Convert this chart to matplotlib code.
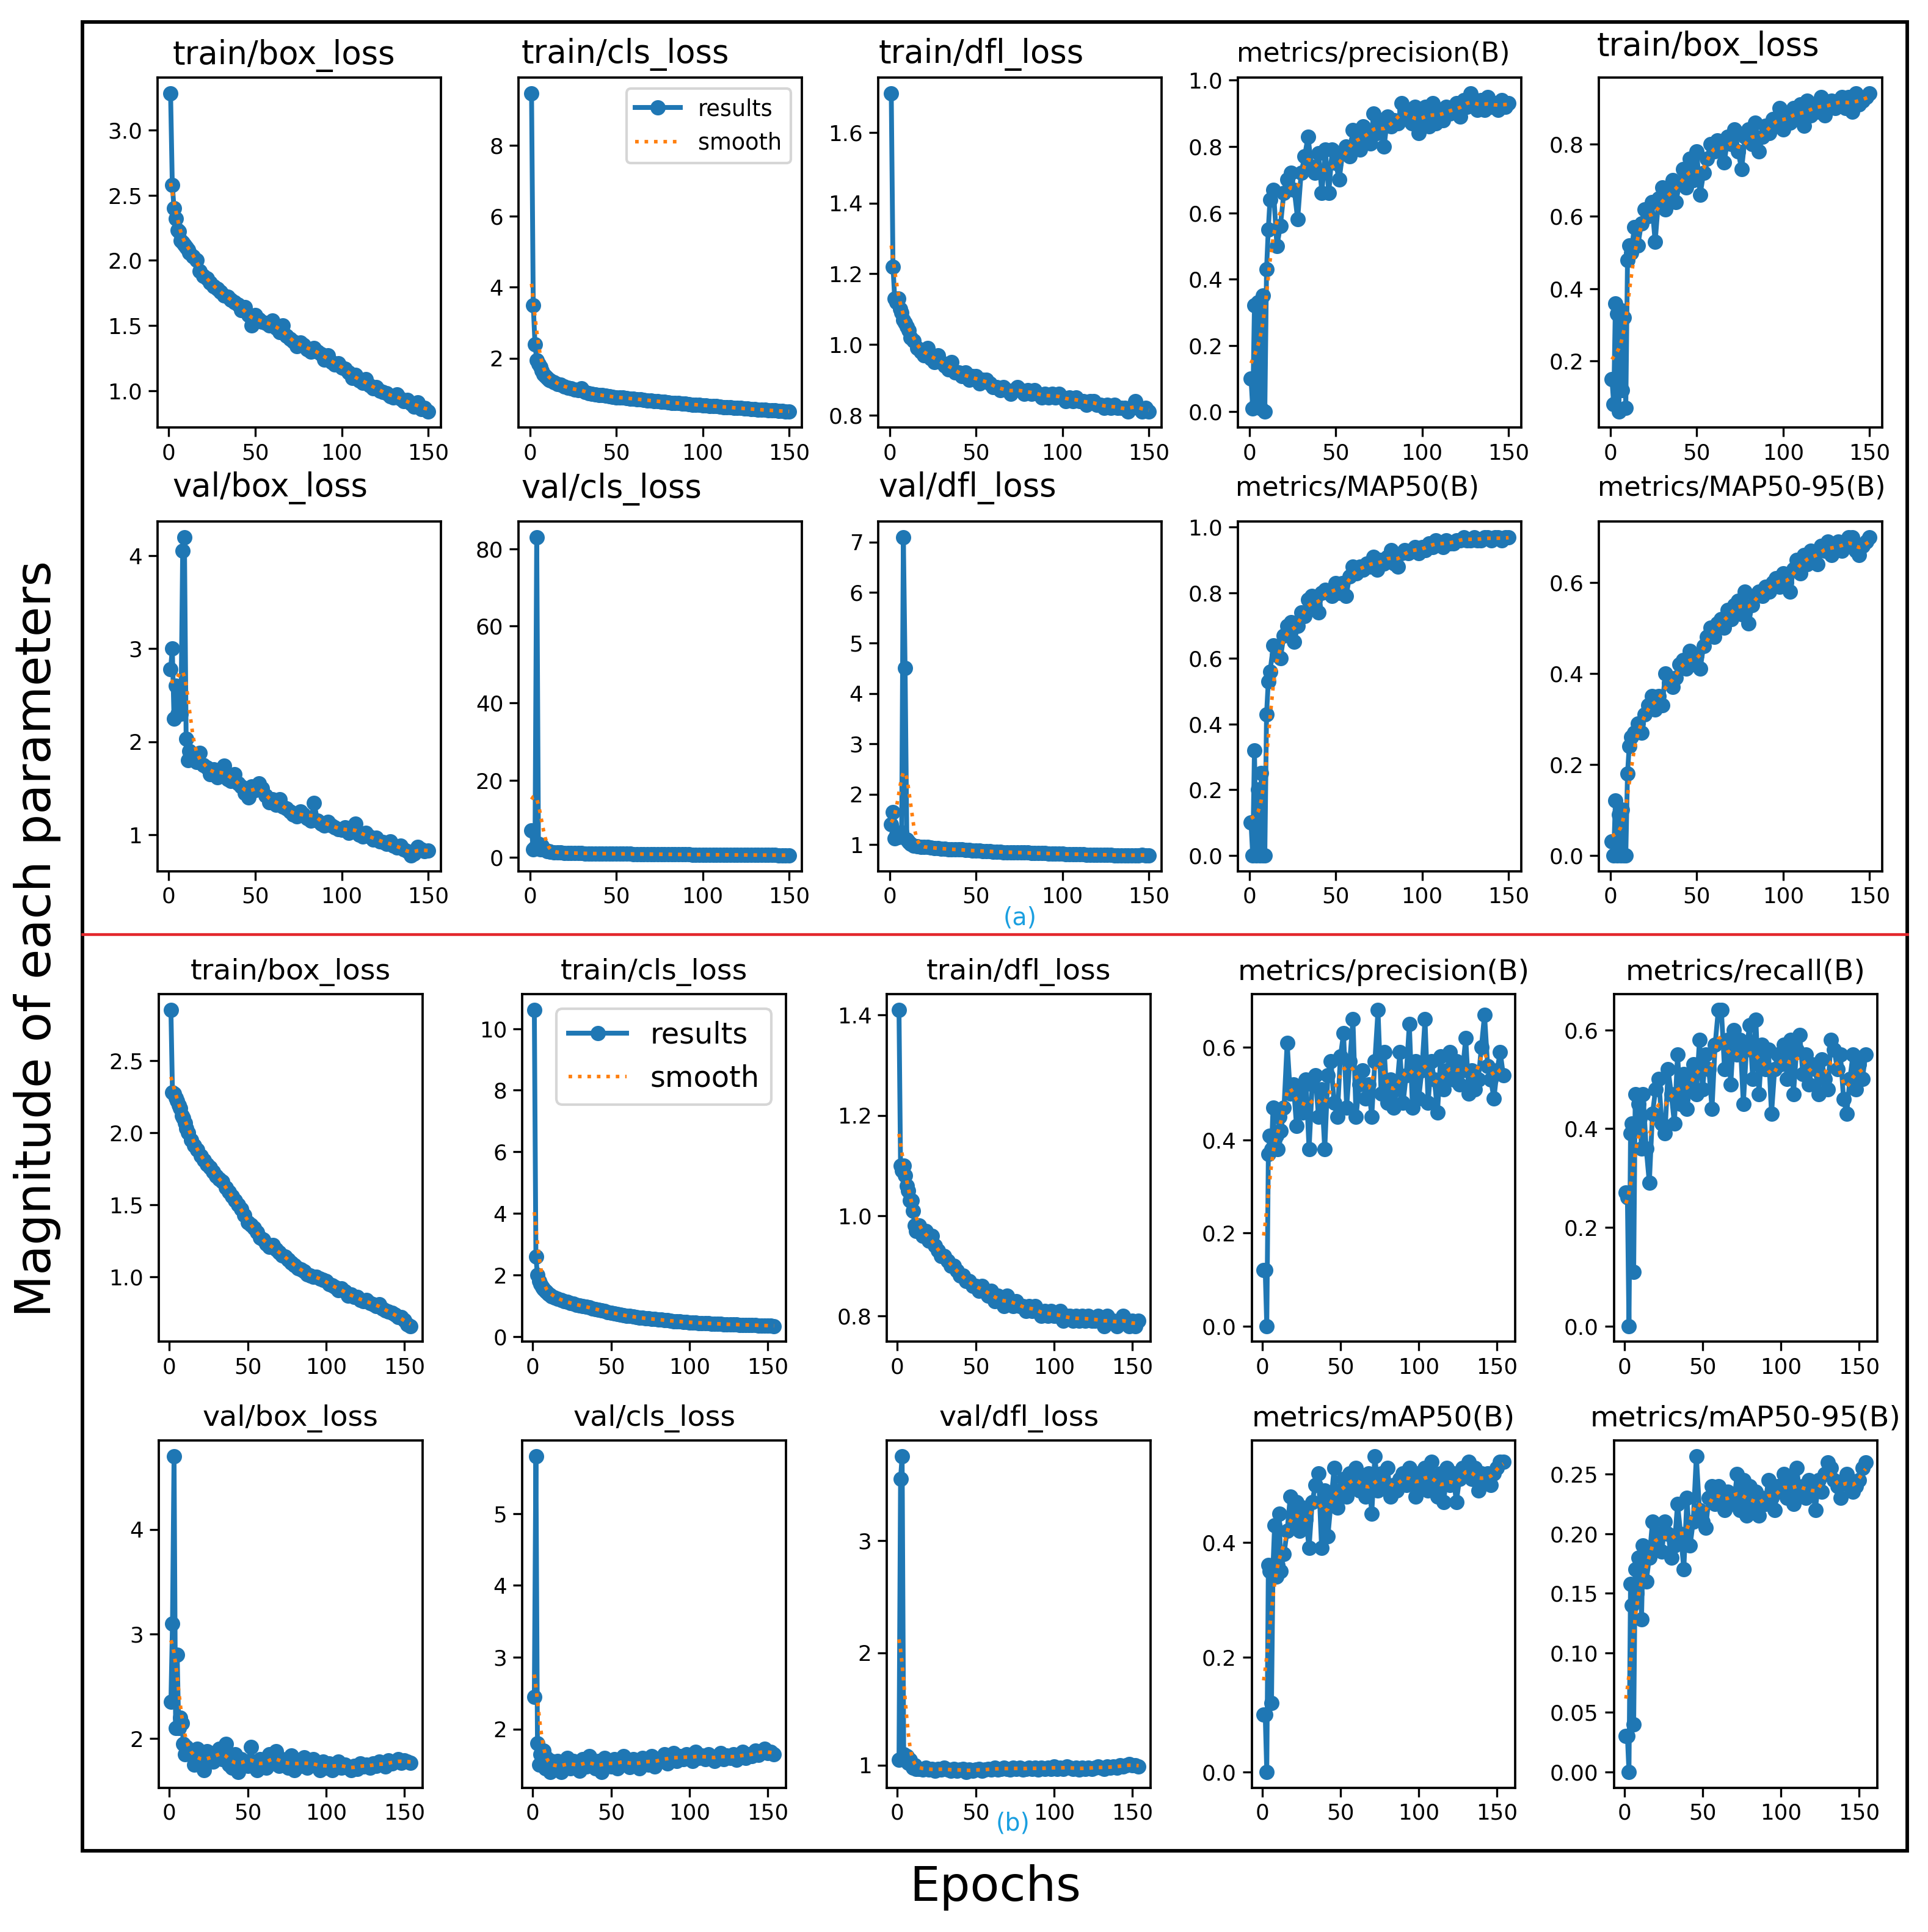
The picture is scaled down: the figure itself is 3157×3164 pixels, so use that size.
import numpy as np
import matplotlib
matplotlib.use("Agg")
import matplotlib.pyplot as plt
from matplotlib.lines import Line2D
from matplotlib.patches import Rectangle

# ---------------- data (a): 150 epochs, epochs 1..12 then every 2nd epoch ----------------
train_box_a = [3.28, 2.58, 2.40, 2.32, 2.23, 2.22, 2.15, 2.14, 2.12, 2.10, 2.08, 2.06,
               2.03, 2.00, 1.92, 1.88, 1.86, 1.83, 1.80, 1.78, 1.76, 1.73,
               1.72, 1.70, 1.68, 1.66, 1.62, 1.64, 1.58, 1.50, 1.58, 1.55,
               1.53, 1.52, 1.50, 1.54, 1.48, 1.45, 1.50, 1.42, 1.40, 1.38,
               1.34, 1.37, 1.35, 1.32, 1.30, 1.33, 1.30, 1.28, 1.24, 1.27,
               1.22, 1.20, 1.21, 1.18, 1.17, 1.14, 1.10, 1.12, 1.08, 1.06,
               1.09, 1.04, 1.02, 1.03, 1.00, 0.99, 0.98, 0.96, 0.95, 0.97,
               0.94, 0.92, 0.93, 0.90, 0.88, 0.91, 0.86, 0.87, 0.84]
train_cls_a = [9.45, 3.50, 2.40, 1.95, 1.85, 1.75, 1.65, 1.55, 1.50, 1.45, 1.40, 1.38,
               1.32, 1.28, 1.25, 1.20, 1.18, 1.15, 1.12, 1.10, 1.15, 1.05,
               1.02, 1.00, 0.98, 0.97, 0.96, 0.95, 0.93, 0.92, 0.90, 0.90,
               0.89, 0.88, 0.86, 0.87, 0.85, 0.84, 0.83, 0.82, 0.82, 0.80,
               0.79, 0.78, 0.78, 0.76, 0.75, 0.75, 0.74, 0.73, 0.72, 0.71,
               0.70, 0.70, 0.69, 0.68, 0.67, 0.66, 0.66, 0.65, 0.64, 0.63,
               0.63, 0.62, 0.61, 0.60, 0.60, 0.59, 0.58, 0.57, 0.57, 0.56,
               0.55, 0.55, 0.54, 0.53, 0.53, 0.52, 0.52, 0.51, 0.50]
train_dfl_a = [1.71, 1.22, 1.13, 1.12, 1.13, 1.10, 1.09, 1.07, 1.06, 1.05, 1.04, 1.02,
               1.01, 0.99, 0.98, 0.97, 0.99, 0.96, 0.95, 0.97, 0.95, 0.94,
               0.93, 0.95, 0.92, 0.92, 0.91, 0.92, 0.90, 0.91, 0.91, 0.89,
               0.90, 0.90, 0.89, 0.88, 0.88, 0.87, 0.88, 0.87, 0.86, 0.87,
               0.88, 0.87, 0.86, 0.87, 0.86, 0.87, 0.86, 0.85, 0.86, 0.85,
               0.86, 0.85, 0.86, 0.85, 0.84, 0.85, 0.84, 0.85, 0.84, 0.84,
               0.83, 0.84, 0.84, 0.83, 0.83, 0.82, 0.83, 0.82, 0.83, 0.82,
               0.82, 0.82, 0.81, 0.82, 0.84, 0.82, 0.81, 0.82, 0.81]
precision_a = [0.10, 0.01, 0.32, 0.02, 0.33, 0.31, 0.01, 0.35, 0.00, 0.43, 0.55, 0.64,
               0.67, 0.50, 0.56, 0.66, 0.70, 0.72, 0.67, 0.58, 0.72, 0.77,
               0.83, 0.74, 0.72, 0.78, 0.66, 0.79, 0.66, 0.79, 0.75, 0.70,
               0.78, 0.80, 0.77, 0.85, 0.82, 0.79, 0.86, 0.83, 0.81, 0.90,
               0.84, 0.88, 0.80, 0.89, 0.86, 0.88, 0.87, 0.93, 0.91, 0.89,
               0.87, 0.92, 0.84, 0.89, 0.92, 0.86, 0.93, 0.87, 0.91, 0.88,
               0.92, 0.90, 0.91, 0.93, 0.89, 0.94, 0.92, 0.96, 0.93, 0.91,
               0.94, 0.91, 0.95, 0.92, 0.93, 0.91, 0.94, 0.92, 0.93]
recall_a = [0.15, 0.08, 0.36, 0.33, 0.06, 0.34, 0.12, 0.32, 0.07, 0.48, 0.52, 0.50,
            0.57, 0.52, 0.58, 0.62, 0.60, 0.64, 0.53, 0.65, 0.68, 0.62,
            0.66, 0.70, 0.64, 0.69, 0.73, 0.68, 0.76, 0.70, 0.78, 0.66,
            0.72, 0.76, 0.80, 0.78, 0.81, 0.79, 0.75, 0.82, 0.80, 0.84,
            0.78, 0.73, 0.82, 0.84, 0.80, 0.86, 0.78, 0.82, 0.85, 0.83,
            0.87, 0.85, 0.90, 0.84, 0.88, 0.86, 0.90, 0.87, 0.91, 0.85,
            0.92, 0.88, 0.91, 0.89, 0.93, 0.88, 0.91, 0.92, 0.90, 0.92,
            0.93, 0.90, 0.93, 0.89, 0.94, 0.91, 0.92, 0.93, 0.94]
val_box_a = [2.78, 3.00, 2.25, 2.60, 2.30, 2.55, 2.30, 4.05, 4.20, 2.03, 1.80, 1.90,
             1.85, 1.78, 1.88, 1.75, 1.72, 1.65, 1.70, 1.62, 1.68, 1.74,
             1.60, 1.58, 1.65, 1.55, 1.52, 1.45, 1.40, 1.52, 1.48, 1.55,
             1.50, 1.42, 1.35, 1.38, 1.32, 1.38, 1.30, 1.28, 1.25, 1.22,
             1.20, 1.25, 1.22, 1.18, 1.15, 1.34, 1.15, 1.12, 1.10, 1.14,
             1.10, 1.08, 1.06, 1.05, 1.08, 1.02, 1.05, 1.12, 1.00, 0.98,
             1.02, 0.98, 0.95, 0.97, 0.93, 0.92, 0.90, 0.93, 0.88, 0.86,
             0.88, 0.84, 0.82, 0.78, 0.80, 0.87, 0.84, 0.82, 0.83]
val_cls_a = [7.0, 2.0, 2.5, 83.0, 3.5, 2.0, 3.0, 2.0, 1.8, 1.6, 1.5, 1.4,
             1.30, 1.25, 1.20, 1.15, 1.12, 1.10, 1.08, 1.05, 1.03, 1.00,
             0.98, 0.97, 0.95, 0.94, 0.93, 0.92, 0.90, 0.90, 0.89, 0.88,
             0.87, 0.86, 0.85, 0.84, 0.83, 0.82, 0.81, 0.80, 0.79, 0.78,
             0.77, 0.76, 0.75, 0.75, 0.74, 0.73, 0.72, 0.71, 0.70, 0.70,
             0.69, 0.68, 0.67, 0.67, 0.66, 0.65, 0.64, 0.64, 0.63, 0.62,
             0.62, 0.61, 0.60, 0.60, 0.59, 0.58, 0.58, 0.57, 0.57, 0.56,
             0.56, 0.55, 0.55, 0.54, 0.54, 0.53, 0.53, 0.52, 0.52]
val_dfl_a = [1.40, 1.65, 1.12, 1.20, 1.15, 1.20, 1.25, 7.10, 4.50, 1.10, 1.05, 1.02,
             0.98, 0.97, 0.96, 0.95, 0.95, 0.94, 0.93, 0.93, 0.92, 0.92,
             0.91, 0.91, 0.90, 0.90, 0.90, 0.89, 0.89, 0.88, 0.88, 0.88,
             0.87, 0.87, 0.87, 0.86, 0.86, 0.86, 0.85, 0.85, 0.85, 0.85,
             0.84, 0.84, 0.84, 0.84, 0.83, 0.83, 0.83, 0.83, 0.83, 0.82,
             0.82, 0.82, 0.82, 0.82, 0.81, 0.81, 0.81, 0.81, 0.81, 0.81,
             0.80, 0.80, 0.80, 0.80, 0.80, 0.80, 0.80, 0.80, 0.79, 0.79,
             0.79, 0.79, 0.79, 0.79, 0.79, 0.79, 0.80, 0.79, 0.79]
map50_a = [0.10, 0.00, 0.32, 0.00, 0.20, 0.00, 0.25, 0.00, 0.00, 0.43, 0.53, 0.56,
           0.64, 0.61, 0.60, 0.67, 0.70, 0.71, 0.65, 0.70, 0.74, 0.73,
           0.78, 0.79, 0.76, 0.74, 0.80, 0.81, 0.80, 0.79, 0.83, 0.80,
           0.83, 0.79, 0.85, 0.88, 0.86, 0.88, 0.87, 0.89, 0.88, 0.91,
           0.87, 0.90, 0.89, 0.91, 0.93, 0.89, 0.88, 0.92, 0.93, 0.92,
           0.93, 0.94, 0.92, 0.94, 0.93, 0.95, 0.94, 0.96, 0.95, 0.94,
           0.96, 0.95, 0.95, 0.96, 0.96, 0.97, 0.96, 0.96, 0.97, 0.96,
           0.96, 0.97, 0.97, 0.96, 0.97, 0.97, 0.96, 0.97, 0.97]
map5095_a = [0.03, 0.00, 0.12, 0.00, 0.09, 0.00, 0.10, 0.00, 0.00, 0.18, 0.24, 0.26,
             0.27, 0.29, 0.27, 0.31, 0.33, 0.35, 0.32, 0.35, 0.33, 0.40,
             0.38, 0.37, 0.39, 0.42, 0.43, 0.41, 0.45, 0.42, 0.44, 0.41,
             0.46, 0.48, 0.50, 0.48, 0.51, 0.52, 0.50, 0.54, 0.52, 0.55,
             0.56, 0.53, 0.58, 0.51, 0.55, 0.57, 0.58, 0.57, 0.59, 0.58,
             0.60, 0.61, 0.59, 0.62, 0.60, 0.58, 0.63, 0.65, 0.62, 0.66,
             0.64, 0.67, 0.66, 0.64, 0.68, 0.67, 0.69, 0.66, 0.68, 0.69,
             0.67, 0.68, 0.70, 0.70, 0.67, 0.66, 0.68, 0.69, 0.70]

# ---------------- data (b): 154 epochs, epochs 1..12 then every 2nd epoch ----------------
train_box_b = [2.85, 2.28, 2.27, 2.24, 2.22, 2.19, 2.17, 2.12, 2.10, 2.07, 2.03, 2.00,
               1.95, 1.91, 1.88, 1.84, 1.81, 1.78, 1.76, 1.73, 1.70, 1.68,
               1.66, 1.62, 1.59, 1.56, 1.53, 1.50, 1.47, 1.43, 1.38, 1.36,
               1.34, 1.31, 1.27, 1.26, 1.23, 1.21, 1.22, 1.19, 1.17, 1.15,
               1.14, 1.12, 1.10, 1.08, 1.06, 1.05, 1.04, 1.02, 1.01, 1.00,
               1.00, 0.99, 0.98, 0.97, 0.95, 0.94, 0.93, 0.91, 0.92, 0.90,
               0.87, 0.88, 0.86, 0.86, 0.84, 0.83, 0.84, 0.82, 0.81, 0.80,
               0.81, 0.78, 0.77, 0.76, 0.75, 0.74, 0.72, 0.72, 0.70, 0.67,
               0.66]
train_cls_b = [10.6, 2.6, 2.0, 1.8, 1.7, 1.6, 1.55, 1.5, 1.45, 1.4, 1.35, 1.32,
               1.28, 1.24, 1.20, 1.16, 1.13, 1.10, 1.07, 1.04, 1.02, 1.00,
               0.97, 0.95, 0.92, 0.90, 0.88, 0.85, 0.83, 0.80, 0.78, 0.76,
               0.74, 0.72, 0.70, 0.68, 0.67, 0.65, 0.64, 0.62, 0.61, 0.60,
               0.59, 0.58, 0.57, 0.56, 0.55, 0.54, 0.53, 0.52, 0.51, 0.50,
               0.50, 0.49, 0.48, 0.47, 0.47, 0.46, 0.45, 0.45, 0.44, 0.44,
               0.43, 0.43, 0.42, 0.42, 0.41, 0.41, 0.40, 0.40, 0.40, 0.39,
               0.39, 0.39, 0.38, 0.38, 0.38, 0.37, 0.37, 0.37, 0.36, 0.36,
               0.35]
train_dfl_b = [1.41, 1.10, 1.09, 1.10, 1.08, 1.06, 1.05, 1.03, 1.03, 1.01, 0.98, 0.97,
               0.98, 0.96, 0.97, 0.95, 0.96, 0.94, 0.93, 0.92, 0.92, 0.91,
               0.90, 0.90, 0.89, 0.88, 0.88, 0.87, 0.87, 0.86, 0.86, 0.85,
               0.86, 0.85, 0.84, 0.85, 0.83, 0.84, 0.83, 0.82, 0.84, 0.83,
               0.82, 0.83, 0.82, 0.82, 0.81, 0.82, 0.81, 0.82, 0.81, 0.80,
               0.81, 0.80, 0.81, 0.80, 0.80, 0.81, 0.79, 0.80, 0.80, 0.79,
               0.80, 0.79, 0.80, 0.79, 0.80, 0.79, 0.79, 0.80, 0.79, 0.78,
               0.80, 0.79, 0.79, 0.78, 0.79, 0.80, 0.79, 0.78, 0.79, 0.78,
               0.79]
precision_b = [0.12, 0.12, 0.00, 0.37, 0.41, 0.38, 0.47, 0.40, 0.41, 0.38, 0.45, 0.42,
               0.47, 0.61, 0.50, 0.52, 0.43, 0.51, 0.46, 0.53, 0.38, 0.52,
               0.54, 0.45, 0.51, 0.38, 0.54, 0.57, 0.48, 0.45, 0.58, 0.63,
               0.47, 0.57, 0.66, 0.45, 0.52, 0.55, 0.49, 0.52, 0.45, 0.57,
               0.68, 0.50, 0.59, 0.48, 0.53, 0.47, 0.51, 0.59, 0.48, 0.54,
               0.65, 0.47, 0.57, 0.49, 0.55, 0.66, 0.48, 0.57, 0.53, 0.46,
               0.58, 0.51, 0.55, 0.59, 0.53, 0.57, 0.52, 0.55, 0.62, 0.50,
               0.55, 0.51, 0.53, 0.60, 0.67, 0.56, 0.53, 0.49, 0.55, 0.59,
               0.54]
recall_b = [0.27, 0.26, 0.00, 0.39, 0.41, 0.11, 0.47, 0.40, 0.45, 0.42, 0.36, 0.47,
            0.36, 0.29, 0.43, 0.48, 0.50, 0.41, 0.39, 0.52, 0.47, 0.41,
            0.55, 0.45, 0.51, 0.44, 0.49, 0.53, 0.47, 0.58, 0.48, 0.55,
            0.52, 0.44, 0.57, 0.64, 0.64, 0.52, 0.58, 0.49, 0.60, 0.55,
            0.58, 0.45, 0.56, 0.61, 0.50, 0.62, 0.47, 0.57, 0.52, 0.56,
            0.43, 0.52, 0.55, 0.53, 0.57, 0.50, 0.58, 0.47, 0.56, 0.59,
            0.51, 0.55, 0.49, 0.53, 0.52, 0.47, 0.54, 0.50, 0.48, 0.58,
            0.56, 0.52, 0.55, 0.46, 0.43, 0.50, 0.55, 0.48, 0.53, 0.50,
            0.55]
val_box_b = [2.35, 3.10, 4.70, 2.10, 2.80, 2.10, 2.20, 2.15, 1.95, 1.85, 1.92, 1.88,
             1.85, 1.75, 1.90, 1.80, 1.70, 1.88, 1.82, 1.78, 1.85, 1.90,
             1.80, 1.95, 1.75, 1.72, 1.85, 1.68, 1.80, 1.78, 1.74, 1.92,
             1.75, 1.70, 1.80, 1.76, 1.72, 1.85, 1.78, 1.88, 1.74, 1.80,
             1.76, 1.72, 1.84, 1.70, 1.78, 1.74, 1.82, 1.72, 1.76, 1.80,
             1.74, 1.70, 1.78, 1.72, 1.76, 1.70, 1.74, 1.78, 1.72, 1.75,
             1.72, 1.70, 1.74, 1.71, 1.76, 1.73, 1.75, 1.72, 1.76, 1.74,
             1.78, 1.75, 1.73, 1.79, 1.76, 1.78, 1.80, 1.77, 1.79, 1.78,
             1.77]
val_cls_b = [2.45, 5.80, 1.80, 1.50, 1.65, 1.55, 1.70, 1.45, 1.60, 1.50, 1.40, 1.55,
             1.45, 1.55, 1.40, 1.50, 1.60, 1.45, 1.55, 1.50, 1.42, 1.58,
             1.48, 1.62, 1.50, 1.45, 1.55, 1.40, 1.60, 1.52, 1.48, 1.58,
             1.45, 1.55, 1.62, 1.50, 1.47, 1.58, 1.52, 1.45, 1.60, 1.55,
             1.50, 1.62, 1.48, 1.58, 1.55, 1.65, 1.52, 1.60, 1.66, 1.55,
             1.62, 1.58, 1.65, 1.60, 1.55, 1.68, 1.60, 1.63, 1.58, 1.65,
             1.60, 1.55, 1.62, 1.66, 1.58, 1.63, 1.60, 1.65, 1.57, 1.62,
             1.68, 1.60, 1.65, 1.62, 1.70, 1.64, 1.68, 1.72, 1.66, 1.68,
             1.65]
val_dfl_b = [1.05, 3.55, 3.75, 1.10, 1.05, 1.08, 1.02, 1.05, 1.00, 0.98, 1.00, 0.97,
             0.97, 0.96, 0.98, 0.96, 0.97, 0.95, 0.97, 0.96, 0.98, 0.96,
             0.95, 0.97, 0.95, 0.96, 0.97, 0.94, 0.96, 0.95, 0.96, 0.97,
             0.95, 0.96, 0.97, 0.96, 0.98, 0.96, 0.97, 0.98, 0.97, 0.96,
             0.98, 0.97, 0.98, 0.96, 0.97, 0.98, 0.97, 0.98, 0.96, 0.98,
             0.97, 0.98, 0.97, 0.99, 0.97, 0.98, 0.97, 0.99, 0.98, 0.97,
             0.98, 0.96, 0.98, 0.97, 0.98, 0.97, 0.98, 0.99, 0.98, 0.97,
             0.99, 0.98, 0.99, 0.98, 1.00, 0.99, 1.00, 1.01, 1.00, 1.00,
             0.99]
map50_b = [0.10, 0.10, 0.00, 0.36, 0.35, 0.12, 0.36, 0.43, 0.34, 0.36, 0.45, 0.35,
           0.38, 0.42, 0.48, 0.43, 0.47, 0.42, 0.46, 0.44, 0.39, 0.47,
           0.50, 0.52, 0.39, 0.49, 0.41, 0.47, 0.53, 0.46, 0.49, 0.51,
           0.48, 0.52, 0.50, 0.53, 0.49, 0.51, 0.48, 0.52, 0.45, 0.55,
           0.49, 0.52, 0.50, 0.53, 0.48, 0.50, 0.49, 0.51, 0.52, 0.50,
           0.53, 0.51, 0.48, 0.52, 0.50, 0.53, 0.49, 0.54, 0.51, 0.48,
           0.52, 0.47, 0.53, 0.50, 0.52, 0.47, 0.51, 0.53, 0.52, 0.54,
           0.51, 0.53, 0.49, 0.52, 0.51, 0.52, 0.50, 0.52, 0.53, 0.54,
           0.54]
map5095_b = [0.03, 0.03, 0.00, 0.158, 0.14, 0.04, 0.17, 0.15, 0.18, 0.18, 0.128, 0.19,
             0.16, 0.18, 0.21, 0.19, 0.20, 0.185, 0.21, 0.20, 0.18, 0.19,
             0.225, 0.20, 0.17, 0.23, 0.19, 0.21, 0.265, 0.22, 0.21, 0.205,
             0.23, 0.24, 0.225, 0.24, 0.23, 0.22, 0.235, 0.23, 0.225, 0.25,
             0.22, 0.245, 0.215, 0.24, 0.22, 0.235, 0.215, 0.23, 0.225, 0.245,
             0.23, 0.22, 0.24, 0.235, 0.25, 0.23, 0.245, 0.225, 0.255, 0.235,
             0.24, 0.23, 0.245, 0.24, 0.22, 0.245, 0.235, 0.25, 0.26, 0.255,
             0.245, 0.24, 0.23, 0.245, 0.25, 0.24, 0.235, 0.24, 0.245, 0.255,
             0.26]

titles_a = ["train/box_loss", "train/cls_loss", "train/dfl_loss", "metrics/precision(B)", "train/box_loss",
            "val/box_loss", "val/cls_loss", "val/dfl_loss", "metrics/MAP50(B)", "metrics/MAP50-95(B)"]
series_a = [train_box_a, train_cls_a, train_dfl_a, precision_a, recall_a,
            val_box_a, val_cls_a, val_dfl_a, map50_a, map5095_a]
yticks_a = [[1.0, 1.5, 2.0, 2.5, 3.0], [2, 4, 6, 8], [0.8, 1.0, 1.2, 1.4, 1.6],
            [0.0, 0.2, 0.4, 0.6, 0.8, 1.0], [0.2, 0.4, 0.6, 0.8],
            [1, 2, 3, 4], [0, 20, 40, 60, 80], [1, 2, 3, 4, 5, 6, 7],
            [0.0, 0.2, 0.4, 0.6, 0.8, 1.0], [0.0, 0.2, 0.4, 0.6]]

titles_b = ["train/box_loss", "train/cls_loss", "train/dfl_loss", "metrics/precision(B)", "metrics/recall(B)",
            "val/box_loss", "val/cls_loss", "val/dfl_loss", "metrics/mAP50(B)", "metrics/mAP50-95(B)"]
series_b = [train_box_b, train_cls_b, train_dfl_b, precision_b, recall_b,
            val_box_b, val_cls_b, val_dfl_b, map50_b, map5095_b]
yticks_b = [[1.0, 1.5, 2.0, 2.5], [0, 2, 4, 6, 8, 10], [0.8, 1.0, 1.2, 1.4],
            [0.0, 0.2, 0.4, 0.6], [0.0, 0.2, 0.4, 0.6],
            [2, 3, 4], [2, 3, 4, 5], [1, 2, 3],
            [0.0, 0.2, 0.4], [0.00, 0.05, 0.10, 0.15, 0.20, 0.25]]


def epochs_for(values):
    # first 12 epochs one by one, then every second epoch
    n = len(values)
    return np.array(list(range(1, 13)) + list(range(14, 14 + 2 * (n - 12), 2)))


def smooth(x, y, sigma=3.0):
    # gaussian smoothing in epoch units (same idea as the yolo results plot)
    x = np.asarray(x, float)
    y = np.asarray(y, float)
    w = np.exp(-0.5 * ((x[:, None] - x[None, :]) / sigma) ** 2)
    return (w @ y) / w.sum(axis=1)


# layout, measured on a 1565 x 1568 grid
W, H = 1565.0, 1568.0


def rect(l, t, w, h):
    return [l / W, 1 - (t + h) / H, w / W, h / H]


fig = plt.figure(figsize=(3157 / 300, 3164 / 300), dpi=300)
plt.rcParams["font.family"] = ["DejaVu Sans"]

BLUE = "#1f77b4"
ORANGE = "#ff7f0e"


def draw_panel(ax, y, yticks, tick_size=8.6):
    x = epochs_for(y)
    ax.plot(x, y, marker="o", color=BLUE, lw=1.9, markersize=5.0, label="results")
    ax.plot(x, smooth(x, y), ":", color=ORANGE, lw=1.4, label="smooth")
    ax.set_xticks([0, 50, 100, 150])
    ax.set_yticks(yticks)
    ax.tick_params(labelsize=tick_size, width=0.8, length=3.5, pad=2.5)
    for s in ax.spines.values():
        s.set_linewidth(0.9)


# ---- part (a) ----
cols_a = [128, 421, 713, 1005, 1298]
rows_a = [63, 423]
title_pos_a = [(140, 45), (423, 44), (713, 44), (1004, 44), (1296, 38),
               (140, 396), (423, 397), (713, 396), (1003, 396), (1297, 396)]
axes_a = []
for i in range(10):
    r, c = divmod(i, 5)
    ax = fig.add_axes(rect(cols_a[c], rows_a[r], 230, 284))
    draw_panel(ax, series_a[i], yticks_a[i])
    fs = 10.7 if titles_a[i].startswith("metrics") else 12.7
    tx, ty = title_pos_a[i]
    fig.text(tx / W, 1 - ty / H, titles_a[i], fontsize=fs, ha="left", va="center")
    axes_a.append(ax)
axes_a[1].legend(loc="upper right", fontsize=8.8, framealpha=0.8)

# ---- part (b) ----
cols_b = [129, 424, 720, 1016, 1310]
rows_b = [807, 1169]
axes_b = []
for i in range(10):
    r, c = divmod(i, 5)
    ax = fig.add_axes(rect(cols_b[c], rows_b[r], 214, 282))
    draw_panel(ax, series_b[i], yticks_b[i])
    fig.text((cols_b[c] + 107) / W, 1 - (rows_b[r] - 18) / H, titles_b[i],
             fontsize=11.4, ha="center", va="center")
    axes_b.append(ax)
axes_b[1].legend(loc="upper right", fontsize=11.5, framealpha=0.8)

# frame, separator and labels
fig.add_artist(Rectangle((67 / W, 1 - 1502 / H), (1548 - 67) / W, (1502 - 18) / H,
                         transform=fig.transFigure, fill=False, lw=1.4, ec="black"))
fig.add_artist(Line2D([67 / W, 1548 / W], [1 - 758 / H, 1 - 758 / H],
                      transform=fig.transFigure, color="#e3262b", lw=1.1))
fig.text(828 / W, 1 - 745 / H, "(a)", color="#1a9fe0", fontsize=9.5, ha="center", va="center")
fig.text(822 / W, 1 - 1480 / H, "(b)", color="#1a9fe0", fontsize=9.5, ha="center", va="center")
fig.text(30 / W, 1 - 762 / H, "Magnitude of each parameters", fontsize=19.3,
         rotation=90, ha="center", va="center")
fig.text(808 / W, 1 - 1532 / H, "Epochs", fontsize=18.8, ha="center", va="center")

fig.savefig("out.png", dpi=300)
